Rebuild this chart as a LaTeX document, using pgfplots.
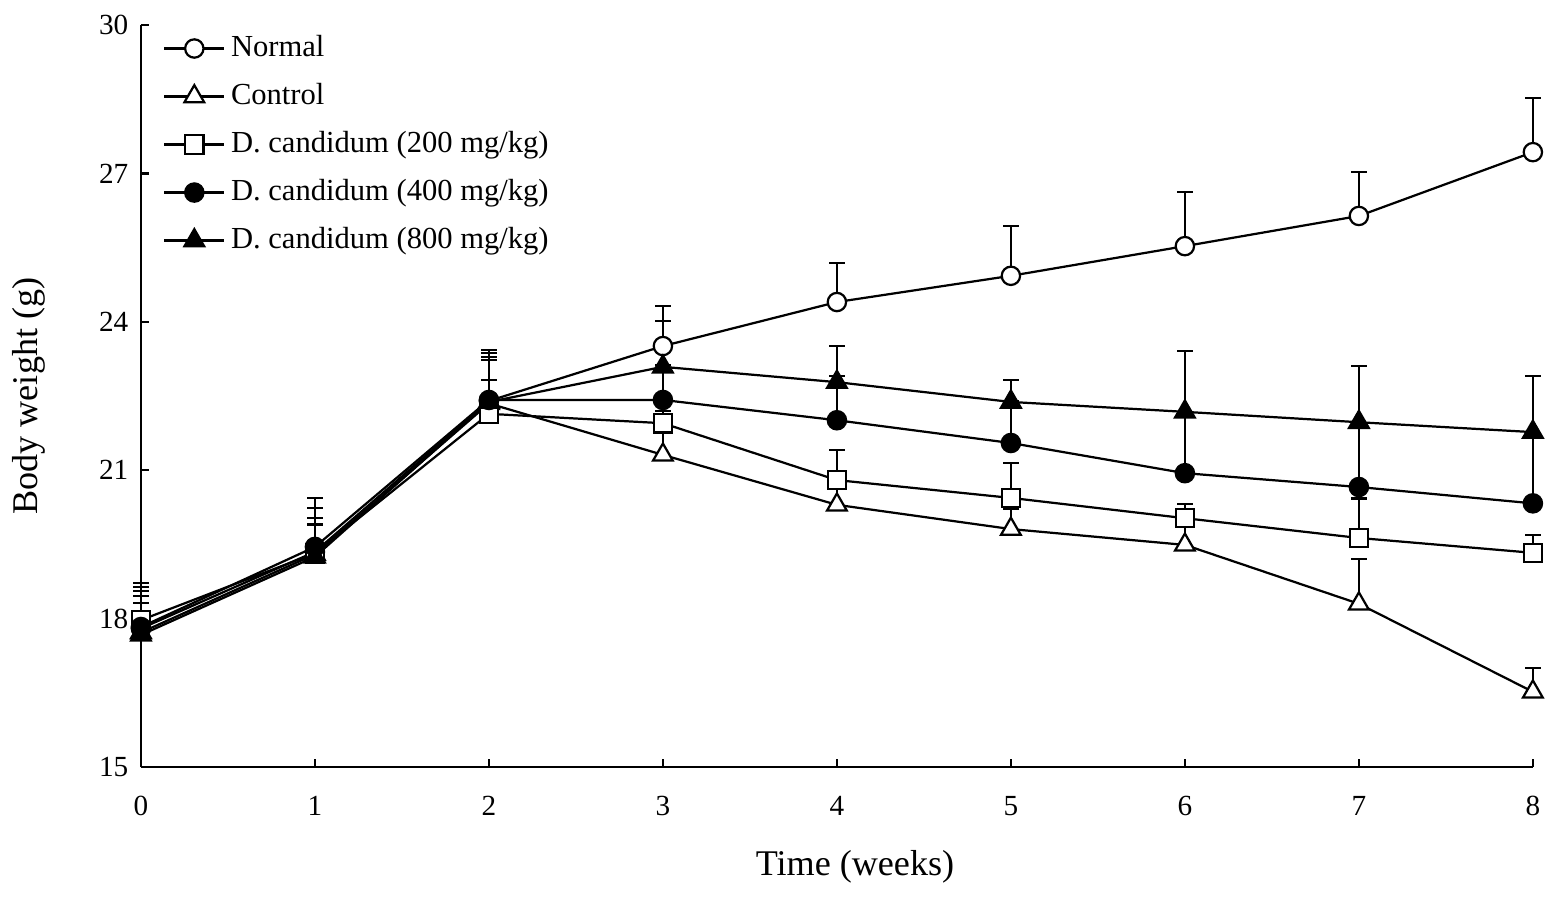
\documentclass[border=0pt]{standalone}
\usepackage{fontspec}
\setmainfont{Liberation Serif}
\usepackage{pgfplots}
\pgfplotsset{compat=1.18}
\begin{document}
\begin{tikzpicture}
\begin{axis}[name=ax, scale only axis, width=500.7pt, height=266.9pt,
  xmin=0, xmax=8, ymin=15, ymax=30,
  axis lines=left, axis line style={-, line width=0.8pt},
  clip=false,
  xtick={0,1,...,8}, ytick={15,18,21,24,27,30},
  tick align=inside, major tick length=3pt,
  tick style={line width=0.8pt, black},
  /pgf/number format/assume math mode=true,
  ticklabel style={font=\fontsize{10.5}{12}\selectfont},
  xticklabel style={yshift=-7pt},
  yticklabel style={xshift=-1pt},
  xlabel={Time (weeks)}, ylabel={Body weight (g)},
  label style={font=\fontsize{13}{15}\selectfont},
  xlabel style={at={(axis description cs:0.513,-0.1349)}, anchor=center},
  ylabel style={at={(axis description cs:-0.0805,0.5)}, anchor=center, rotate=0},
  legend style={draw=none, fill=none, at={(axis description cs:0,1)}, anchor=north west,
    xshift=7.8pt, yshift=-1pt, inner sep=0pt, column sep=0pt, row sep=2.77pt,
    font=\fontsize{11}{13}\selectfont,
    nodes={text height=8pt, text depth=2.5pt, inner sep=2pt}},
  legend cell align=left,
  legend image code/.code={\draw[mark repeat=2,mark phase=2] plot coordinates {(0pt,0pt) (10.8pt,0pt) (21.6pt,0pt)};},
  error bars/error bar style={line width=0.8pt, solid},
  error bars/error mark options={mark size=2.8pt, line width=0.8pt, rotate=90},
]
\addplot[black, line width=0.8pt, mark=*, mark size=3.3pt, mark options={fill=white, solid},
  error bars/.cd, y dir=plus, y explicit]
  table[x index=0, y index=1, y error index=2] {
0 17.80 0.84
1 19.35 0.89
2 22.40 0.97
3 23.51 0.81
4 24.40 0.79
5 24.93 1.01
6 25.53 1.09
7 26.14 0.89
8 27.43 1.09
};
\addlegendentry{Normal}
\addplot[black, line width=0.8pt, mark=triangle*, mark size=4.1pt, mark options={fill=white, solid},
  error bars/.cd, y dir=plus, y explicit]
  table[x index=0, y index=1, y error index=2] {
0 17.72 0.84
1 19.30 0.60
2 22.35 0.88
3 21.31 0.50
4 20.30 0.40
5 19.81 0.40
6 19.49 0.40
7 18.30 0.90
8 16.52 0.48
};
\addlegendentry{Control}
\addplot[black, line width=0.8pt, mark=square*, mark size=3.3pt, mark options={fill=white, solid},
  error bars/.cd, y dir=plus, y explicit]
  table[x index=0, y index=1, y error index=2] {
0 17.97 0.75
1 19.32 0.60
2 22.14 0.68
3 21.95 0.25
4 20.80 0.61
5 20.44 0.70
6 20.03 0.29
7 19.63 0.80
8 19.33 0.36
};
\addlegendentry{D. candidum (200 mg/kg)}
\addplot[black, line width=0.8pt, mark=*, mark size=3.3pt, mark options={fill=black, solid},
  error bars/.cd, y dir=plus, y explicit]
  table[x index=0, y index=1, y error index=2] {
0 17.83 0.63
1 19.45 0.99
2 22.42 1.01
3 22.42 0.70
4 22.01 0.89
5 21.55 0.85
6 20.94 1.21
7 20.66 1.25
8 20.33 1.42
};
\addlegendentry{D. candidum (400 mg/kg)}
\addplot[black, line width=0.8pt, mark=triangle*, mark size=4.1pt, mark options={fill=black, solid},
  error bars/.cd, y dir=plus, y explicit]
  table[x index=0, y index=1, y error index=2] {
0 17.67 0.65
1 19.25 0.78
2 22.38 0.91
3 23.09 0.93
4 22.78 0.73
5 22.38 0.44
6 22.18 1.23
7 21.97 1.14
8 21.77 1.13
};
\addlegendentry{D. candidum (800 mg/kg)}
\end{axis}
\pgfresetboundingbox
\useasboundingbox ([xshift=-50.7pt,yshift=-48.6pt]ax.south west) rectangle ([xshift=9.4pt,yshift=9pt]ax.north east);
\end{tikzpicture}
\end{document}
